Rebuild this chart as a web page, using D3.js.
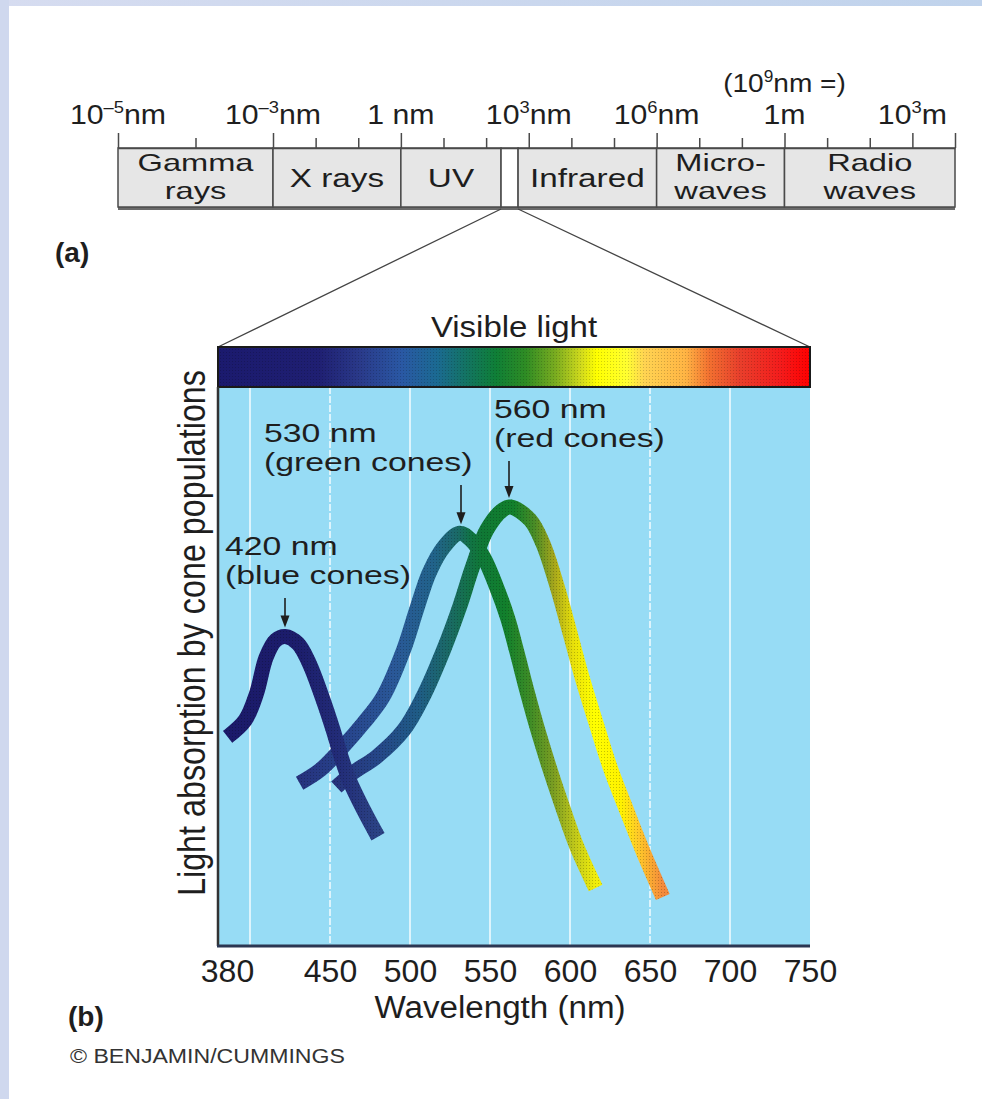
<!DOCTYPE html>
<html>
<head>
<meta charset="utf-8">
<script src="https://cdn.jsdelivr.net/npm/d3@7"></script>
<style>
html, body { margin: 0; padding: 0; background: #fff; }
svg { display: block; font-family: "Liberation Sans", Arial, Helvetica, sans-serif; }
</style>
</head>
<body>
<div id="chart"></div>
<script>
// ---------- (a) electromagnetic spectrum, positions in log10(wavelength / nm) ----------
const SPEC_MAJOR = [-5, -3, 0, 3, 6, 9, 12];
const SPEC_MAJOR_LABELS = [["10", "–5", "nm"], ["10", "–3", "nm"], ["1 nm", "", ""], ["10", "3", "nm"], ["10", "6", "nm"], ["1m", "", ""], ["10", "3", "m"]];
const SPEC_MINOR = [-4, -2, -1, 1, 2, 4, 5, 7, 8, 10, 11];
const SPEC_END = 13;
const BAND_EDGES = [-5, -3, 0, 2.35, 2.75, 6, 9, 13];
const BAND_NAMES = [["Gamma", "rays"], ["X rays"], ["UV"], [], ["Infrared"], ["Micro-", "waves"], ["Radio", "waves"]];

// ---------- (b) cone absorption (relative units, 0-100) ----------
const WAVE_TICKS = [380, 450, 500, 550, 600, 650, 700, 750];
const GRID_NM = [400, 450, 500, 550, 600, 650, 700];

const BLUE_NM  = [386, 397, 404, 410, 416, 422, 430, 437, 445, 452, 457, 462, 471, 480];
const BLUE_ABS = [37.3, 40.3, 45, 51.5, 54.6, 55.3, 54, 50.5, 44.5, 38.5, 33.7, 29.6, 24.2, 19.4];

const GREEN_NM  = [431, 444, 458, 471, 483, 496, 504, 512, 521, 531, 538, 546, 554, 561, 567, 573, 580, 588, 596, 604, 616];
const GREEN_ABS = [29, 31.4, 35.5, 39.8, 44.4, 52.9, 60, 66.7, 71.3, 73.8, 72.6, 69.5, 64.2, 58.6, 52.3, 45.6, 38.4, 31, 24.2, 17.8, 10.2];

const RED_NM  = [454, 464, 479, 496, 508, 521, 531, 539, 548, 558, 563, 575, 583, 592, 600, 608, 617, 625, 636, 646, 658];
const RED_ABS = [28.3, 30.8, 33.7, 38.5, 44.4, 52.9, 60.6, 67.7, 74.4, 78, 78.5, 76.2, 72, 64.2, 55.9, 47.5, 39.1, 31.9, 23.7, 16.5, 8.6];

const PEAK_NM = [420, 530, 560];
const PEAK_TEXT = [["420 nm", "(blue cones)"], ["530 nm", "(green cones)"], ["560 nm", "(red cones)"]];

// colours along each curve (by wavelength) and along the visible bar (by fraction)
const BLUE_COLORS  = [[386, "#1b1a6a"], [430, "#1c1d6c"], [455, "#222c78"], [480, "#2b4385"]];
const GREEN_COLORS = [[431, "#26327e"], [460, "#27448c"], [490, "#2a5898"], [515, "#21638a"], [530, "#1a6a66"], [540, "#0e763c"], [560, "#12802c"], [575, "#3e8c26"], [590, "#7c9e22"], [603, "#c0c81a"], [616, "#f2ee0a"]];
const RED_COLORS   = [[454, "#26337c"], [480, "#254688"], [505, "#1f5c86"], [525, "#1a6a64"], [545, "#0f7835"], [565, "#12802c"], [578, "#4a8c26"], [590, "#a6a61c"], [602, "#e8e00a"], [615, "#ffff00"], [632, "#fff200"], [642, "#ffcc28"], [658, "#f48a3c"]];
const BAR_COLORS = [[0, "#1b1a6e"], [0.17, "#1f1f72"], [0.24, "#2a3a8a"], [0.31, "#2a58a4"], [0.37, "#1b6a92"], [0.42, "#137462"], [0.47, "#0f7f36"], [0.52, "#2f8c24"], [0.57, "#7aac20"], [0.615, "#d4dc1c"], [0.64, "#ffff00"], [0.69, "#ffff30"], [0.72, "#ffd452"], [0.79, "#ffb444"], [0.83, "#f27030"], [0.88, "#e8402c"], [0.95, "#f41c1c"], [1, "#ff0000"]];

const W = 982, H = 1099;
const INK = "#1e1e1e";

const svg = d3.select("#chart").append("svg").attr("width", W).attr("height", H);
const defs = svg.append("defs");

// page frame
svg.append("rect").attr("width", W).attr("height", H).attr("fill", "#fff");
var fg = defs.append("linearGradient").attr("id", "frame");
fg.append("stop").attr("offset", 0).attr("stop-color", "#d6dcf0");
fg.append("stop").attr("offset", 1).attr("stop-color", "#c0d3ec");
svg.append("rect").attr("width", W).attr("height", 6).attr("fill", "url(#frame)");
svg.append("rect").attr("width", 9).attr("height", H).attr("fill", "#cfd8ee");

// dots that mimic the halftone print
var pat = defs.append("pattern").attr("id", "dots").attr("width", 3).attr("height", 3).attr("patternUnits", "userSpaceOnUse");
pat.append("rect").attr("x", 1).attr("y", 1).attr("width", 1).attr("height", 1).attr("fill", "#000");

function txt(g, x, y, s, o) {
    o = o || {};
    return g.append("text")
        .attr("transform", "translate(" + x + "," + y + ")" + (o.rot ? " rotate(" + o.rot + ")" : "") + " scale(" + (o.sx || 1) + ",1)")
        .attr("font-size", o.size || 26)
        .attr("font-weight", o.weight || "normal")
        .attr("text-anchor", o.anchor || "start")
        .attr("fill", o.fill || INK)
        .text(s);
}

// ================= (a) =================
const specX = d3.scaleLinear().domain([-5, -3, SPEC_END]).range([118, 273, 955]);
const specTop = 148, specBot = 207;
const gA = svg.append("g");

gA.append("line").attr("x1", specX(-5)).attr("x2", specX(SPEC_END))
    .attr("y1", specBot + 1.5).attr("y2", specBot + 1.5).attr("stroke", "#6a6a6a").attr("stroke-width", 3);

gA.selectAll("rect.band").data(d3.range(BAND_EDGES.length - 1)).join("rect")
    .attr("class", "band")
    .attr("x", i => specX(BAND_EDGES[i]))
    .attr("width", i => specX(BAND_EDGES[i + 1]) - specX(BAND_EDGES[i]))
    .attr("y", specTop).attr("height", specBot - specTop)
    .attr("fill", i => BAND_NAMES[i].length ? "#e6e6e6" : "#ffffff")
    .attr("stroke", "#4a4a4a").attr("stroke-width", 1.5);

gA.append("g").attr("transform", "translate(0," + specTop + ")")
    .call(d3.axisTop(specX).tickValues(SPEC_MAJOR.concat([SPEC_END])).tickSize(15).tickSizeOuter(0).tickFormat(""))
    .call(g => g.selectAll("line").attr("stroke", "#4a4a4a").attr("stroke-width", 1.5))
    .call(g => g.select(".domain").attr("stroke", "#4a4a4a").attr("stroke-width", 1.5));
gA.append("g").attr("transform", "translate(0," + specTop + ")")
    .call(d3.axisTop(specX).tickValues(SPEC_MINOR).tickSize(10).tickFormat(""))
    .call(g => g.select(".domain").remove())
    .call(g => g.selectAll("line").attr("stroke", "#4a4a4a").attr("stroke-width", 1.5));

SPEC_MAJOR.forEach(function (e, i) {
    var l = SPEC_MAJOR_LABELS[i];
    var t = txt(gA, specX(e), 124, "", { size: 28, sx: 1.08, anchor: "middle" });
    t.append("tspan").text(l[0]);
    if (l[1]) {
        t.append("tspan").attr("font-size", 17).attr("dy", -11).text(l[1]);
        t.append("tspan").attr("dy", 11).text(l[2]);
    }
});
var t9 = txt(gA, specX(9), 92, "", { size: 26, sx: 1.08, anchor: "middle" });
t9.append("tspan").text("(10");
t9.append("tspan").attr("font-size", 16).attr("dy", -10).text("9");
t9.append("tspan").attr("dy", 10).text("nm =)");

BAND_NAMES.forEach(function (lines, i) {
    var cx = specX((BAND_EDGES[i] + BAND_EDGES[i + 1]) / 2);
    if (lines.length === 1) txt(gA, cx, 187, lines[0], { size: 26, sx: 1.28, anchor: "middle" });
    if (lines.length === 2) {
        txt(gA, cx, 171, lines[0], { size: 24, sx: 1.36, anchor: "middle" });
        txt(gA, cx, 199, lines[1], { size: 24, sx: 1.36, anchor: "middle" });
    }
});

txt(gA, 55, 262, "(a)", { size: 28, weight: "bold" });

// ================= (b) =================
const x = d3.scaleLinear().domain([380, 750]).range([218, 810]);
const y = d3.scaleLinear().domain([0, 100]).range([945, 387]);
const barTop = 347, barBot = y(100);
const gB = svg.append("g");

// zoom lines from the visible slot
gB.append("path")
    .attr("d", "M" + specX(BAND_EDGES[3]) + "," + (specBot + 2) + "L" + x(380) + "," + barTop
             + "M" + specX(BAND_EDGES[4]) + "," + (specBot + 2) + "L" + x(750) + "," + barTop)
    .attr("stroke", "#444").attr("stroke-width", 1.3).attr("fill", "none");

// plot background + grid
gB.append("rect").attr("x", x(380)).attr("y", y(100)).attr("width", x(750) - x(380)).attr("height", y(0) - y(100)).attr("fill", "#97dcf5");
gB.selectAll("line.grid").data(GRID_NM).join("line").attr("class", "grid")
    .attr("x1", d => x(d)).attr("x2", d => x(d)).attr("y1", y(100)).attr("y2", y(0))
    .attr("stroke", "#ffffff").attr("stroke-width", 1.5).attr("stroke-opacity", 0.9)
    .attr("stroke-dasharray", d => (d === 450 || d === 650) ? "7,2" : null);

// visible light bar
var bg = defs.append("linearGradient").attr("id", "barGrad");
bg.selectAll("stop").data(BAR_COLORS).join("stop").attr("offset", d => d[0]).attr("stop-color", d => d[1]);
gB.append("rect").attr("x", x(380)).attr("y", barTop).attr("width", x(750) - x(380)).attr("height", barBot - barTop).attr("fill", "url(#barGrad)");
gB.append("rect").attr("x", x(380)).attr("y", barTop).attr("width", x(750) - x(380)).attr("height", barBot - barTop).attr("fill", "url(#dots)").attr("opacity", 0.18);
gB.append("rect").attr("x", x(380)).attr("y", barTop).attr("width", x(750) - x(380)).attr("height", barBot - barTop)
    .attr("fill", "none").attr("stroke", "#1a1a1a").attr("stroke-width", 2);
txt(gB, (x(380) + x(750)) / 2, 337, "Visible light", { size: 30, sx: 1.1, anchor: "middle" });

// curves
const line = d3.line().x(d => x(d[0])).y(d => y(d[1])).curve(d3.curveCatmullRom.alpha(0.5));
const curves = [
    { id: "green", nm: GREEN_NM, abs: GREEN_ABS, colors: GREEN_COLORS },
    { id: "red", nm: RED_NM, abs: RED_ABS, colors: RED_COLORS },
    { id: "blue", nm: BLUE_NM, abs: BLUE_ABS, colors: BLUE_COLORS }
];
curves.forEach(function (c) {
    var gr = defs.append("linearGradient").attr("id", "g-" + c.id).attr("gradientUnits", "userSpaceOnUse")
        .attr("x1", x(380)).attr("x2", x(750)).attr("y1", 0).attr("y2", 0);
    gr.selectAll("stop").data(c.colors).join("stop")
        .attr("offset", d => (d[0] - 380) / 370).attr("stop-color", d => d[1]);
    var pts = d3.zip(c.nm, c.abs);
    gB.append("path").attr("d", line(pts)).attr("fill", "none")
        .attr("stroke", "url(#g-" + c.id + ")").attr("stroke-width", 15).attr("stroke-linecap", "butt");
    gB.append("path").attr("d", line(pts)).attr("fill", "none")
        .attr("stroke", "url(#dots)").attr("stroke-width", 15).attr("stroke-linecap", "butt").attr("opacity", 0.22);
});

// peak labels and arrows
const labelPos = [[225, 555], [264, 442], [494, 418]];
const peakAbs = [d3.max(BLUE_ABS), d3.max(GREEN_ABS), d3.max(RED_ABS)];
PEAK_NM.forEach(function (p, i) {
    var lx = labelPos[i][0], ly = labelPos[i][1];
    txt(gB, lx, ly, PEAK_TEXT[i][0], { size: 26, sx: 1.3 });
    txt(gB, lx, ly + 29, PEAK_TEXT[i][1], { size: 26, sx: 1.3 });
    var ax = x(p) + 3, tip = y(peakAbs[i]) - 9, top = ly + 29 + 14;
    gB.append("line").attr("x1", ax).attr("x2", ax).attr("y1", top).attr("y2", tip - 10)
        .attr("stroke", INK).attr("stroke-width", 1.6);
    gB.append("path").attr("d", "M" + (ax - 4.5) + "," + (tip - 12) + "L" + (ax + 4.5) + "," + (tip - 12) + "L" + ax + "," + tip + "Z")
        .attr("fill", INK);
});

// axes
gB.append("line").attr("x1", x(380)).attr("x2", x(380)).attr("y1", barBot).attr("y2", y(0) + 1)
    .attr("stroke", "#333").attr("stroke-width", 2.5);
gB.append("line").attr("x1", x(380) - 1).attr("x2", x(750)).attr("y1", y(0) + 1).attr("y2", y(0) + 1)
    .attr("stroke", "#2b3652").attr("stroke-width", 3);

gB.append("g").attr("transform", "translate(0," + y(0) + ")")
    .call(d3.axisBottom(x).tickValues(WAVE_TICKS).tickSize(0).tickFormat(d3.format("d")))
    .call(g => g.select(".domain").remove())
    .call(g => g.selectAll("text").attr("y", 37).attr("dy", 0).attr("font-size", 32)
        .attr("font-family", "Liberation Sans, Arial, sans-serif").attr("fill", INK)
        .attr("dx", d => d === 380 ? 9 : 0));

txt(gB, 500, 1018, "Wavelength (nm)", { size: 31, sx: 1.07, anchor: "middle" });
txt(gB, 205, 633, "Light absorption by cone populations", { size: 38, sx: 0.85, anchor: "middle", rot: -90 });
txt(gB, 68, 1026, "(b)", { size: 28, weight: "bold" });
txt(gB, 70, 1063, "© BENJAMIN/CUMMINGS", { size: 21, sx: 1.1, fill: "#333" });
</script>
</body>
</html>
